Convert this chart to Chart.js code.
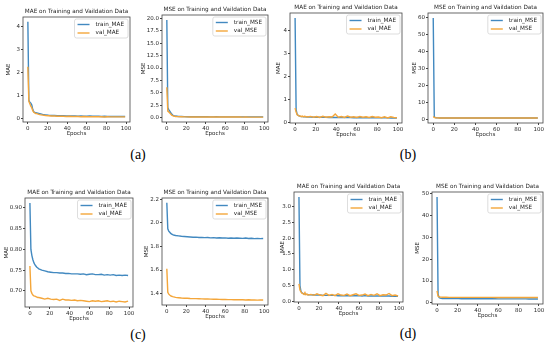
<!DOCTYPE html>
<html>
<head>
<meta charset="utf-8">
<script src="https://cdn.jsdelivr.net/npm/chart.js@4.4.0/dist/chart.umd.min.js"></script>
<style>
  body { margin: 0; background: #fff; width: 550px; height: 350px; position: relative; overflow: hidden; }
  canvas { position: absolute; }
  .tag { position: absolute; font-family: "Liberation Serif", serif; font-size: 14px; color: #000; transform: translate(-50%, -50%); }
</style>
</head>
<body>
<div class="tag" style="left:138px;top:155px">(a)</div>
<div class="tag" style="left:408px;top:155px">(b)</div>
<div class="tag" style="left:138px;top:335px">(c)</div>
<div class="tag" style="left:408px;top:334px">(d)</div>
<script>
// epochs sampled from the curves (every epoch to 9, then every 3)
var epochs = [0,1,2,3,4,5,6,7,8,9,12,15,18,21,24,27,30,33,36,39,42,45,48,51,54,57,60,63,66,69,72,75,78,81,84,87,90,93,96,99];
var xTicks = [0,20,40,60,80,100];

// (a)
var aTrainMae = [4.2,0.8,0.72,0.68,0.6,0.4,0.3,0.28,0.26,0.25, 0.22,0.19,0.17,0.15,0.14,0.14,0.13,0.13,0.13,0.12, 0.12,0.12,0.12,0.11,0.12,0.11,0.11,0.12,0.11,0.11, 0.11,0.10,0.11,0.10,0.10,0.10,0.10,0.10,0.10,0.10];
var aValMae = [2.25,0.75,0.65,0.55,0.48,0.35,0.28,0.25,0.23,0.22, 0.18,0.16,0.14,0.13,0.12,0.12,0.11,0.11,0.11,0.10, 0.11,0.10,0.10,0.10,0.09,0.10,0.09,0.09,0.09,0.09, 0.09,0.09,0.08,0.09,0.08,0.08,0.08,0.08,0.08,0.08];
var aTrainMse = [19.7,2.0,1.6,1.3,1.0,0.7,0.5,0.4,0.35,0.3, 0.22,0.2,0.18,0.17,0.16,0.16,0.15,0.15,0.15,0.15, 0.15,0.14,0.14,0.15,0.14,0.14,0.14,0.14,0.14,0.14, 0.14,0.13,0.14,0.13,0.13,0.13,0.13,0.13,0.13,0.13];
var aValMse = [6.1,1.3,1.1,0.9,0.7,0.5,0.4,0.3,0.25,0.22, 0.18,0.16,0.14,0.13,0.12,0.12,0.12,0.11,0.11,0.11, 0.11,0.11,0.10,0.10,0.10,0.10,0.10,0.10,0.10,0.10, 0.10,0.10,0.09,0.10,0.09,0.09,0.09,0.09,0.09,0.09];

// (b)
var bTrainMae = [4.55,0.55,0.35,0.3,0.28,0.26,0.25,0.25,0.24,0.24, 0.23,0.23,0.22,0.22,0.22,0.22,0.22,0.21,0.22,0.21, 0.21,0.21,0.21,0.21,0.21,0.2,0.21,0.2,0.2,0.2, 0.2,0.2,0.2,0.2,0.2,0.2,0.2,0.19,0.2,0.19];
var bValMae = [0.62,0.45,0.33,0.3,0.27,0.28,0.25,0.27,0.24,0.26, 0.23,0.26,0.22,0.25,0.21,0.26,0.22,0.24,0.23,0.36, 0.22,0.25,0.21,0.27,0.22,0.24,0.21,0.25,0.22,0.24, 0.21,0.25,0.22,0.23,0.2,0.24,0.19,0.24,0.21,0.2];
var bTrainMse = [59.5,1.5,1.1,1.0,0.95,0.93,0.92,0.92,0.91,0.91, 0.9,0.9,0.9,0.9,0.9,0.9,0.9,0.9,0.9,0.9, 0.9,0.9,0.9,0.89,0.9,0.89,0.89,0.89,0.89,0.89, 0.89,0.89,0.89,0.89,0.89,0.89,0.89,0.89,0.89,0.89];
var bValMse = [1.8,1.2,1.0,0.95,0.93,0.92,0.92,0.91,0.91,0.9, 0.9,0.9,0.9,0.9,0.9,0.9,0.9,0.9,0.9,0.92, 0.9,0.9,0.9,0.9,0.9,0.9,0.89,0.9,0.89,0.89, 0.89,0.89,0.89,0.89,0.89,0.89,0.88,0.89,0.88,0.88];

// (c)
var cTrainMae = [0.912,0.80,0.785,0.775,0.768,0.763,0.76,0.757,0.755,0.753, 0.75,0.748,0.746,0.745,0.744,0.744,0.743,0.743,0.742,0.742, 0.741,0.741,0.741,0.740,0.741,0.739,0.740,0.741,0.739,0.739, 0.740,0.738,0.739,0.738,0.739,0.737,0.738,0.737,0.738,0.737];
var cValMae = [0.76,0.70,0.694,0.69,0.688,0.687,0.686,0.685,0.684,0.684, 0.682,0.680,0.682,0.680,0.679,0.680,0.677,0.680,0.678,0.678, 0.677,0.678,0.676,0.677,0.676,0.675,0.674,0.676,0.675,0.676, 0.674,0.675,0.676,0.674,0.675,0.673,0.675,0.674,0.673,0.675];
var cTrainMse = [2.17,1.95,1.93,1.92,1.91,1.905,1.90,1.897,1.895,1.893, 1.89,1.886,1.884,1.882,1.88,1.878,1.879,1.876,1.877,1.875, 1.876,1.873,1.875,1.872,1.874,1.871,1.873,1.87,1.872,1.869, 1.871,1.87,1.868,1.871,1.867,1.869,1.866,1.868,1.866,1.867];
var cValMse = [1.61,1.41,1.395,1.387,1.38,1.377,1.374,1.372,1.37,1.368, 1.365,1.362,1.36,1.36,1.358,1.357,1.357,1.356,1.355,1.354, 1.354,1.353,1.352,1.352,1.351,1.35,1.35,1.349,1.349,1.348, 1.348,1.347,1.348,1.346,1.347,1.345,1.346,1.344,1.345,1.345];

// (d)
var dTrainMae = [3.3,0.5,0.32,0.27,0.25,0.24,0.23,0.22,0.22,0.21, 0.21,0.2,0.2,0.2,0.19,0.19,0.19,0.19,0.19,0.18, 0.18,0.18,0.18,0.18,0.18,0.18,0.18,0.17,0.18,0.17, 0.17,0.17,0.17,0.17,0.17,0.17,0.17,0.16,0.17,0.16];
var dValMae = [0.55,0.36,0.3,0.26,0.24,0.22,0.28,0.21,0.23,0.2, 0.22,0.19,0.24,0.2,0.18,0.25,0.19,0.22,0.18,0.24, 0.2,0.19,0.23,0.18,0.21,0.24,0.19,0.2,0.23,0.18, 0.22,0.19,0.24,0.18,0.21,0.2,0.25,0.18,0.2,0.17];
var dTrainMse = [48.5,4.0,2.5,2.2,2.1,2.05,2.0,2.0,1.98,1.97, 1.96,1.95,1.95,1.94,1.93,1.93,1.92,1.92,1.91,1.91, 1.9,1.9,1.89,1.89,1.88,1.88,1.87,1.87,1.86,1.86, 1.85,1.85,1.84,1.84,1.83,1.83,1.82,1.82,1.81,1.8];
var dValMse = [5.5,3.0,2.8,2.7,2.65,2.6,2.6,2.58,2.57,2.56, 2.55,2.55,2.55,2.54,2.54,2.54,2.53,2.53,2.53,2.53, 2.52,2.52,2.52,2.52,2.52,2.51,2.51,2.51,2.51,2.51, 2.5,2.5,2.5,2.5,2.5,2.5,2.5,2.5,2.5,2.5];

// y tick labels
var yTicksA1 = [0,1,2,3,4];
var yTicksA2 = [0,2.5,5,7.5,10,12.5,15,17.5,20];
var yTicksB1 = [0,1,2,3,4];
var yTicksB2 = [0,10,20,30,40,50,60];
var yTicksC1 = [0.70,0.75,0.80,0.85,0.90];
var yTicksC2 = [1.4,1.6,1.8,2.0,2.2];
var yTicksD1 = [0,0.5,1,1.5,2,2.5,3];
var yTicksD2 = [0,10,20,30,40,50];

var BLUE = '#4289c0', ORANGE = '#f4a63a';
var FONT = '"DejaVu Sans", sans-serif';
var TICK = 5.5;

Chart.defaults.font.family = FONT;
Chart.defaults.color = '#2a2a2a';

// box = plot area [left, top, right, bottom] on the page, yGap = distance of the y label from the axis
var panels = [
  {box:[23,17,130,122],  yGap:15, metric:'MAE', train:aTrainMae, val:aValMae, ticks:yTicksA1, min:-0.14, max:4.41, dec:0},
  {box:[162,15,268,122], yGap:19, metric:'MSE', train:aTrainMse, val:aValMse, ticks:yTicksA2, min:-0.9,  max:20.7, dec:1},
  {box:[290,13,402,123], yGap:12, metric:'MAE', train:bTrainMae, val:bValMae, ticks:yTicksB1, min:-0.03, max:4.77, dec:0},
  {box:[428,13,543,123], yGap:14, metric:'MSE', train:bTrainMse, val:bValMse, ticks:yTicksB2, min:-2.05, max:62.4, dec:0},
  {box:[25,198,133,307], yGap:19, metric:'MAE', train:cTrainMae, val:cValMae, ticks:yTicksC1, min:0.661, max:0.924, dec:2},
  {box:[162,198,268,305],yGap:16, metric:'MSE', train:cTrainMse, val:cValMse, ticks:yTicksC2, min:1.303, max:2.211, dec:1},
  {box:[294,192,403,302],yGap:12, metric:'MAE', train:dTrainMae, val:dValMae, ticks:yTicksD1, min:-0.02, max:3.46, dec:1},
  {box:[432,192,543,304],yGap:15, metric:'MSE', train:dTrainMse, val:dValMse, ticks:yTicksD2, min:-0.5,  max:50.8, dec:0}
];

// axes frame, title and matplotlib-like legend
var framePlugin = {
  id: 'frame',
  afterDraw: function(chart) {
    var a = chart.chartArea, ctx = chart.ctx;
    var title = chart.options.plugins.frame.title;
    ctx.save();
    ctx.strokeStyle = '#444';
    ctx.lineWidth = 0.8;
    ctx.strokeRect(a.left, a.top, a.right - a.left, a.bottom - a.top);

    ctx.fillStyle = '#1e1e1e';
    ctx.font = '5.7px ' + FONT;
    ctx.textAlign = 'center';
    ctx.textBaseline = 'alphabetic';
    ctx.fillText(title, (a.left + a.right) / 2, a.top - 4);

    var sets = [chart.data.datasets[0], chart.data.datasets[1]];
    var tw = 0;
    sets.forEach(function(d) { tw = Math.max(tw, ctx.measureText(d.label).width); });
    var w = tw + 25, h = 19, x = a.right - w - 2, y = a.top + 2;
    ctx.fillStyle = 'rgba(255,255,255,0.85)';
    ctx.strokeStyle = '#d4d4d4';
    ctx.lineWidth = 0.8;
    ctx.beginPath();
    if (ctx.roundRect) ctx.roundRect(x, y, w, h, 2); else ctx.rect(x, y, w, h);
    ctx.fill();
    ctx.stroke();
    sets.forEach(function(d, i) {
      var ly = y + 5.5 + i * 8.5;
      ctx.strokeStyle = d.borderColor;
      ctx.lineWidth = 1.4;
      ctx.beginPath();
      ctx.moveTo(x + 3, ly);
      ctx.lineTo(x + 15, ly);
      ctx.stroke();
      ctx.fillStyle = '#1e1e1e';
      ctx.textAlign = 'left';
      ctx.textBaseline = 'middle';
      ctx.fillText(d.label, x + 21, ly);
    });
    ctx.restore();
  }
};

function points(vals) {
  return vals.map(function(v, i) { return {x: epochs[i], y: v}; });
}

panels.forEach(function(p) {
  var L = p.box[0], T = p.box[1], R = p.box[2], B = p.box[3];
  var sw = Math.round(p.yGap + 3);
  var cl = L - 1 - sw, ct = T - 14;
  var cv = document.createElement('canvas');
  cv.width = R - cl + 6;
  cv.height = B - ct + 16;
  cv.style.left = cl + 'px';
  cv.style.top = ct + 'px';
  document.body.appendChild(cv);

  new Chart(cv, {
    type: 'line',
    data: {
      datasets: [
        {label: 'train_' + p.metric, data: points(p.train), borderColor: BLUE, borderWidth: 1.4, pointRadius: 0, tension: 0, order: 1},
        {label: 'val_' + p.metric, data: points(p.val), borderColor: ORANGE, borderWidth: 1.4, pointRadius: 0, tension: 0, order: 0}
      ]
    },
    options: {
      responsive: false,
      animation: false,
      events: [],
      layout: {padding: {left: 1, top: 14, right: 6, bottom: 1}},
      plugins: {
        legend: {display: false},
        tooltip: {enabled: false},
        frame: {title: p.metric + ' on Training and Vaildation Data'}
      },
      scales: {
        x: {
          type: 'linear', min: -4.95, max: 103.95,
          grid: {drawOnChartArea: false, tickLength: 2, color: '#444'},
          border: {display: false},
          ticks: {font: {size: TICK}, padding: 1, maxRotation: 0, callback: function(v) { return v; }},
          afterBuildTicks: function(s) { s.ticks = xTicks.map(function(v) { return {value: v}; }); },
          afterFit: function(s) { s.height = 15; },
          title: {display: true, text: 'Epochs', font: {size: TICK}, padding: 0}
        },
        y: {
          min: p.min, max: p.max,
          grid: {drawOnChartArea: false, tickLength: 2, color: '#444'},
          border: {display: false},
          ticks: {font: {size: TICK}, padding: 1, callback: function(v) { return v.toFixed(p.dec); }},
          afterBuildTicks: function(s) { s.ticks = p.ticks.map(function(v) { return {value: v}; }); },
          afterFit: function(s) { s.width = sw; },
          title: {display: true, text: p.metric, font: {size: TICK}, padding: 0}
        }
      }
    },
    plugins: [framePlugin]
  });
});
</script>
</body>
</html>
